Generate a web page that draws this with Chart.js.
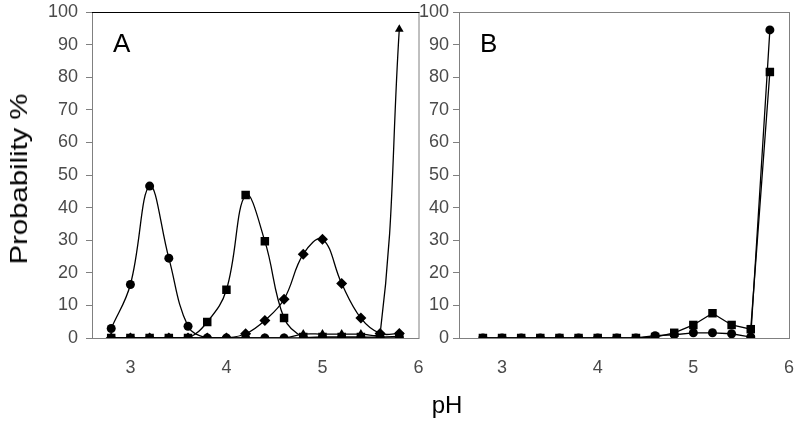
<!DOCTYPE html>
<html>
<head>
<meta charset="utf-8">
<script src="https://cdn.jsdelivr.net/npm/chart.js@4/dist/chart.umd.min.js"></script>
<style>
  body { margin: 0; background: #fff; font-family: "Liberation Sans", Arial, sans-serif; }
  #wrap { position: relative; width: 800px; height: 424px; }
  #boxA { position: absolute; left: 0; top: 0; width: 430px; height: 424px; }
  #boxB { position: absolute; left: 400px; top: 0; width: 400px; height: 424px; }
  .ytitle { position: absolute; left: 19px; top: 179px; transform: translate(-50%, -50%) rotate(-90deg) scaleX(1.22); font-size: 24px; white-space: nowrap; }
  .xtitle { position: absolute; left: 447px; top: 405px; transform: translate(-50%, -50%); font-size: 24px; }
</style>
</head>
<body>
<div id="wrap">
  <div id="boxA"><canvas id="chartA"></canvas></div>
  <div id="boxB"><canvas id="chartB"></canvas></div>
  <div class="ytitle">Probability %</div>
  <div class="xtitle">pH</div>
</div>
<script>
const phValues = [2.8, 3.0, 3.2, 3.4, 3.6, 3.8, 4.0, 4.2, 4.4, 4.6, 4.8, 5.0, 5.2, 5.4, 5.6, 5.8];
const xTicks = [3, 4, 5, 6];

// panel A
const aCircles  = [2.9, 16.4, 46.6, 24.5, 3.6, 0, 0, 0, 0, 0, 0, 0, 0, 0, 0, 0];
const aSquares  = [0, 0, 0, 0, 0, 4.9, 14.8, 43.9, 29.7, 6.1, 0.3, 0.3, 0.3, 0.3, 0.3, 0.5];
const aDiamonds = [0, 0, 0, 0, 0, 0, 0, 1.3, 5.4, 11.9, 25.7, 30.3, 16.7, 6.1, 1.4, 1.4];
const aTriangles = [0, 0, 0, 0, 0, 0, 0, 0, 0, 0, 1.2, 1.2, 1.2, 1.2, 1.2, 94.7];

// panel B
const bCircles = [0, 0, 0, 0, 0, 0, 0, 0, 0, 0.7, 1.0, 1.6, 1.6, 1.3, 0.3, 94.5];
const bSquares = [0, 0, 0, 0, 0, 0, 0, 0, 0, 0.3, 1.6, 4.0, 7.6, 4.0, 2.7, 81.6];

function pts(arr) {
  return phValues.map((x, i) => ({ x: x, y: arr[i] }));
}

function series(arr, style, radius, tension) {
  return {
    data: pts(arr),
    borderColor: '#000',
    backgroundColor: '#000',
    borderWidth: 1.3,
    pointStyle: style,
    pointRadius: radius,
    pointBorderWidth: 0,
    tension: tension
  };
}

function boxPlugin(topColor, label) {
  return {
    id: 'box',
    afterDraw(chart) {
      const a = chart.chartArea;
      const c = chart.ctx;
      c.save();
      c.strokeStyle = '#808080';
      c.lineWidth = 1;
      c.strokeRect(a.left + 0.5, a.top + 0.5, a.right - a.left, a.bottom - a.top);
      c.strokeStyle = topColor;
      c.beginPath();
      c.moveTo(a.left, a.top + 0.5);
      c.lineTo(a.right + 1, a.top + 0.5);
      c.stroke();
      c.fillStyle = '#000';
      c.font = '26px "Liberation Sans", Arial, sans-serif';
      c.textBaseline = 'middle';
      c.fillText(label, a.left + 21, a.top + 33);
      c.restore();
    }
  };
}

function makeOptions(xMin, yWidth, padRight, yPad) {
  return {
    responsive: true,
    maintainAspectRatio: false,
    animation: false,
    layout: { padding: { left: 0, right: padRight, top: 12, bottom: 0 } },
    plugins: { legend: { display: false }, tooltip: { enabled: false } },
    scales: {
      x: {
        type: 'linear',
        min: xMin,
        max: 6,
        afterBuildTicks(scale) { scale.ticks = xTicks.map(v => ({ value: v })); },
        afterFit(scale) {
          scale.height = 86;
          scale.paddingLeft = 0;
          scale.paddingRight = 0;
        },
        grid: { display: false, drawOnChartArea: false, tickLength: 5 },
        border: { color: '#808080' },
        ticks: { color: '#4a4a4a', font: { size: 18, family: '"Liberation Sans", Arial' }, padding: 14 }
      },
      y: {
        min: 0,
        max: 100,
        afterFit(scale) {
          scale.width = yWidth;
          scale.paddingTop = 0;
          scale.paddingBottom = 0;
        },
        grid: { drawOnChartArea: false, tickLength: 6, color: '#808080' },
        border: { color: '#808080' },
        ticks: { stepSize: 10, color: '#4a4a4a', font: { size: 18, family: '"Liberation Sans", Arial' }, padding: yPad }
      }
    }
  };
}

new Chart(document.getElementById('chartA'), {
  type: 'line',
  data: {
    datasets: [
      series(aTriangles, 'triangle', 5, 0.4),
      series(aCircles, 'circle', 4.5, 0.4),
      series(aSquares, 'rect', 6, 0.4),
      series(aDiamonds, 'rectRot', 5.5, 0.4)
    ]
  },
  options: makeOptions(2.6, 92, 11.5, 8),
  plugins: [boxPlugin('#000', 'A')]
});

new Chart(document.getElementById('chartB'), {
  type: 'line',
  data: {
    datasets: [
      series(bCircles, 'circle', 4.5, 0),
      series(bSquares, 'rect', 6, 0)
    ]
  },
  options: makeOptions(2.55, 59, 11, 4),
  plugins: [boxPlugin('#808080', 'B')]
});
</script>
</body>
</html>
